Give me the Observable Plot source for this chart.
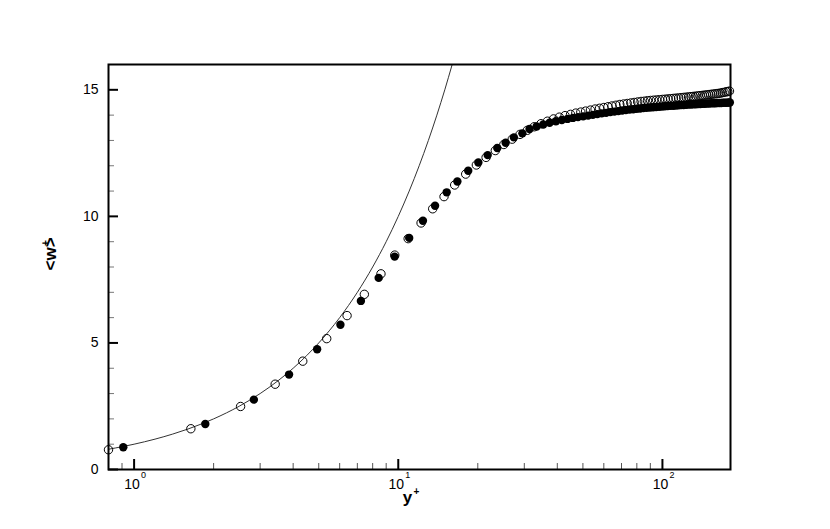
<!DOCTYPE html>
<html><head><meta charset="utf-8">
<script src="https://cdn.jsdelivr.net/npm/d3@7"></script>
<script src="https://cdn.jsdelivr.net/npm/@observablehq/plot@0.6"></script>
<style>body{margin:0;background:#fff}</style>
</head><body><div id="chart"></div>
<script>
// open circles series
const openYp = [0.80,1.64,2.53,3.42,4.35,5.36,6.40,7.44,8.60,9.70,10.9,12.2,13.5,14.9,16.35,18.0,19.75,21.5,23.3,25.1,27.0,28.9,30.8,32.7,34.7,36.7,38.7,40.7,42.8,44.9,47.0,49.1,51.2,53.4,55.6,57.8,60.0,62.2,64.4,66.7,69.0,71.3,73.6,75.9,78.2,80.6,83.0,85.4,87.8,90.2,92.6,95.0,97.5,100.0,102.5,105.0,107.5,110.0,112.6,115.2,117.8,120.4,123.0,125.6,128.2,130.8,133.5,136.2,138.9,141.6,144.3,147.0,149.7,152.4,155.1,157.8,160.5,163.2,165.9,168.6,171.3,174.0,176.7,179.4];
const openW = [0.78,1.61,2.49,3.37,4.28,5.17,6.08,6.92,7.73,8.47,9.12,9.74,10.30,10.78,11.24,11.67,12.03,12.33,12.60,12.84,13.05,13.24,13.40,13.54,13.66,13.76,13.85,13.92,13.98,14.03,14.08,14.12,14.16,14.20,14.24,14.27,14.30,14.33,14.36,14.39,14.42,14.44,14.46,14.48,14.50,14.52,14.54,14.55,14.57,14.58,14.59,14.60,14.61,14.62,14.63,14.64,14.65,14.66,14.67,14.68,14.69,14.70,14.71,14.72,14.73,14.74,14.75,14.76,14.77,14.78,14.79,14.80,14.81,14.82,14.83,14.84,14.85,14.86,14.87,14.89,14.90,14.92,14.93,14.95];
// filled circles series
const fillYp = [0.91,1.86,2.84,3.86,4.93,6.04,7.22,8.43,9.69,11.0,12.4,13.78,15.25,16.74,18.4,20.1,21.8,23.7,25.5,27.4,29.5,31.4,33.4,35.4,37.4,39.5,41.6,43.7,45.8,47.9,50.1,52.3,54.5,56.7,58.9,61.2,63.5,65.8,68.1,70.4,72.7,75.1,77.5,79.9,82.3,84.7,87.1,89.6,92.1,94.6,97.1,99.6,102.1,104.7,107.3,109.9,112.5,115.1,117.7,120.3,123.0,125.7,128.4,131.1,133.8,136.5,139.2,141.9,144.6,147.4,150.2,153.0,155.8,158.6,161.4,164.2,167.0,169.8,172.6,175.4,178.2,180.0];
const fillW = [0.88,1.80,2.76,3.75,4.75,5.72,6.66,7.57,8.41,9.15,9.83,10.42,10.95,11.38,11.80,12.13,12.42,12.70,12.91,13.12,13.28,13.45,13.55,13.63,13.70,13.76,13.81,13.85,13.89,13.92,13.95,13.98,14.01,14.04,14.07,14.09,14.12,14.14,14.16,14.18,14.20,14.22,14.23,14.25,14.26,14.28,14.29,14.30,14.31,14.32,14.33,14.34,14.35,14.36,14.37,14.37,14.38,14.39,14.40,14.40,14.41,14.42,14.42,14.43,14.43,14.44,14.44,14.45,14.45,14.46,14.46,14.47,14.47,14.47,14.48,14.48,14.48,14.49,14.49,14.49,14.50,14.50];
// viscous sublayer law <w>+ = y+
const lawYp = [0.8,0.9,1,1.2,1.4,1.6,1.8,2,2.5,3,3.5,4,4.5,5,6,7,8,9,10,11,12,13,14,15,16];
// axes
const xTicks = [1,10,100];
const xExp = ["0","1","2"];
const xMinor = [0.9,2,3,4,5,6,7,8,9,20,30,40,50,60,70,80,90];
const yTicks = [0,5,10,15];
const yMinor = [1,2,3,4,6,7,8,9,11,12,13,14];

const W = 830, H = 529, mL = 108, mR = 100, mT = 64, mB = 60;
const plotW = W - mL - mR, plotH = H - mT - mB;

const openData = openYp.map((x, i) => ({x, w: openW[i]}));
const fillData = fillYp.map((x, i) => ({x, w: fillW[i]}));

const chart = Plot.plot({
  width: W, height: H,
  marginLeft: mL, marginRight: mR, marginTop: mT, marginBottom: mB,
  style: {fontFamily: "'Liberation Sans', Arial, sans-serif", background: "white", color: "black"},
  x: {type: "log", domain: [0.8, 181]},
  y: {domain: [0, 16]},
  marks: [
    Plot.line(lawYp, {x: d => d, y: d => d, stroke: "#333", strokeWidth: 1, curve: "monotone-x"}),
    Plot.dot(openData, {x: "x", y: "w", r: 4.2, stroke: "black", strokeWidth: 1, fill: "none"}),
    Plot.dot(fillData, {x: "x", y: "w", r: 4.2, fill: "black", stroke: "none"}),
    Plot.tickX(xMinor, {x: d => d, insetTop: plotH - 6, stroke: "#555", strokeWidth: 1}),
    Plot.tickX(xTicks, {x: d => d, insetTop: plotH - 10, stroke: "black", strokeWidth: 2}),
    Plot.tickY(yMinor, {y: d => d, insetRight: plotW - 6, stroke: "#777", strokeWidth: 1}),
    Plot.tickY(yTicks, {y: d => d, insetRight: plotW - 10, stroke: "black", strokeWidth: 2}),
    Plot.frame({stroke: "black", strokeWidth: 2}),
    Plot.axisX({ticks: xTicks, tickSize: 0, tickPadding: 10, tickFormat: () => "10", fontSize: 14, dx: -2, fill: "black", label: null}),
    Plot.text(xTicks, {x: d => d, frameAnchor: "bottom", text: (d, i) => xExp[i], dx: 7, dy: 8, fontSize: 9, textAnchor: "start", fill: "black"}),
    Plot.axisY({ticks: yTicks, tickSize: 0, tickPadding: 10, fontSize: 14, fill: "black", label: null}),
    Plot.text(["y"], {frameAnchor: "bottom", dx: -12, dy: 33, lineAnchor: "bottom", fontSize: 17, fontWeight: "bold", fill: "black"}),
    Plot.text(["+"], {frameAnchor: "bottom", dx: -3, dy: 25.5, fontSize: 10, fontWeight: "bold", fill: "black"}),
    Plot.text(["<w>"], {frameAnchor: "left", dx: -58, dy: 3.5, rotate: -90, fontSize: 17, fontWeight: "bold", fill: "black"}),
    Plot.text(["+"], {frameAnchor: "left", dx: -63, dy: -21, rotate: -90, fontSize: 10, fontWeight: "bold", fill: "black"})
  ]
});
document.getElementById("chart").appendChild(chart);
</script>
</body></html>
